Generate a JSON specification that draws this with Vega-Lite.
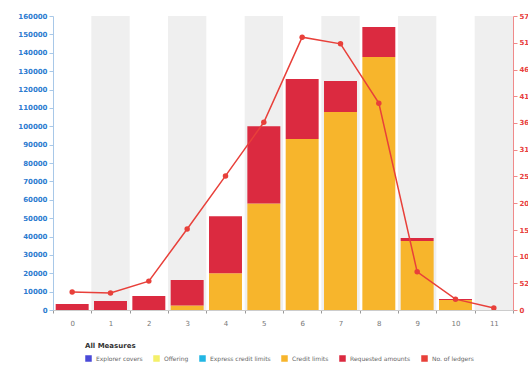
{
  "$schema": "https://vega.github.io/schema/vega-lite/v6.json",
  "width": 460,
  "height": 294,
  "autosize": {"type": "none"},
  "padding": {"left": 53, "top": 16, "right": 15, "bottom": 55},
  "background": "white",
  "config": {"view": {"stroke": null}, "font": "DejaVu Sans"},
  "datasets": {
    "stripes": [
      {"cat": "0", "shade": 0}, {"cat": "1", "shade": 1}, {"cat": "2", "shade": 0}, {"cat": "3", "shade": 1},
      {"cat": "4", "shade": 0}, {"cat": "5", "shade": 1}, {"cat": "6", "shade": 0}, {"cat": "7", "shade": 1},
      {"cat": "8", "shade": 0}, {"cat": "9", "shade": 1}, {"cat": "10", "shade": 0}, {"cat": "11", "shade": 1}
    ],
    "bars": [
      {"cat": "0", "measure": "Credit limits", "ord": 1, "value": 0},
      {"cat": "0", "measure": "Requested amounts", "ord": 2, "value": 3300},
      {"cat": "1", "measure": "Credit limits", "ord": 1, "value": 0},
      {"cat": "1", "measure": "Requested amounts", "ord": 2, "value": 4900},
      {"cat": "2", "measure": "Credit limits", "ord": 1, "value": 0},
      {"cat": "2", "measure": "Requested amounts", "ord": 2, "value": 7600},
      {"cat": "3", "measure": "Credit limits", "ord": 1, "value": 2500},
      {"cat": "3", "measure": "Requested amounts", "ord": 2, "value": 13800},
      {"cat": "4", "measure": "Credit limits", "ord": 1, "value": 20000},
      {"cat": "4", "measure": "Requested amounts", "ord": 2, "value": 31000},
      {"cat": "5", "measure": "Credit limits", "ord": 1, "value": 58000},
      {"cat": "5", "measure": "Requested amounts", "ord": 2, "value": 42000},
      {"cat": "6", "measure": "Credit limits", "ord": 1, "value": 93000},
      {"cat": "6", "measure": "Requested amounts", "ord": 2, "value": 32700},
      {"cat": "7", "measure": "Credit limits", "ord": 1, "value": 107700},
      {"cat": "7", "measure": "Requested amounts", "ord": 2, "value": 16900},
      {"cat": "8", "measure": "Credit limits", "ord": 1, "value": 137700},
      {"cat": "8", "measure": "Requested amounts", "ord": 2, "value": 16300},
      {"cat": "9", "measure": "Credit limits", "ord": 1, "value": 37500},
      {"cat": "9", "measure": "Requested amounts", "ord": 2, "value": 1700},
      {"cat": "10", "measure": "Credit limits", "ord": 1, "value": 5500},
      {"cat": "10", "measure": "Requested amounts", "ord": 2, "value": 500},
      {"cat": "11", "measure": "Credit limits", "ord": 1, "value": 0},
      {"cat": "11", "measure": "Requested amounts", "ord": 2, "value": 0}
    ],
    "line": [
      {"cat": "0", "count": 35}, {"cat": "1", "count": 33}, {"cat": "2", "count": 56},
      {"cat": "3", "count": 157}, {"cat": "4", "count": 260}, {"cat": "5", "count": 364},
      {"cat": "6", "count": 529}, {"cat": "7", "count": 516}, {"cat": "8", "count": 401},
      {"cat": "9", "count": 74}, {"cat": "10", "count": 21}, {"cat": "11", "count": 4}
    ]
  },
  "encoding": {
    "x": {
      "field": "cat", "type": "ordinal", "sort": null,
      "scale": {"domain": ["0","1","2","3","4","5","6","7","8","9","10","11"], "paddingInner": 0, "paddingOuter": 0},
      "axis": {
        "title": null, "labelAngle": 0, "labelColor": "#777777", "labelFontSize": 7,
        "domainColor": "#cccccc", "tickColor": "#999999", "tickSize": 3, "tickBand": "extent", "labelPadding": 6
      }
    }
  },
  "layer": [
    {
      "data": {"name": "stripes"},
      "transform": [{"filter": "datum.shade == 1"}],
      "mark": {"type": "rect", "color": "#efefef"}
    },
    {
      "data": {"name": "bars"},
      "mark": {"type": "bar", "width": {"band": 0.86}},
      "encoding": {
        "y": {
          "field": "value", "type": "quantitative", "stack": "zero",
          "scale": {"domain": [0, 160000], "nice": false},
          "axis": {
            "title": null, "values": [0,10000,20000,30000,40000,50000,60000,70000,80000,90000,100000,110000,120000,130000,140000,150000,160000],
            "format": "d", "labelColor": "#2b7bd0", "labelFontSize": 7, "labelFontWeight": "bold",
            "domainColor": "#a8c8e8", "tickColor": "#a8c8e8", "tickSize": 4, "grid": false
          }
        },
        "order": {"field": "ord"},
        "color": {
          "field": "measure", "type": "nominal",
          "scale": {
            "domain": ["Explorer covers", "Offering", "Express credit limits", "Credit limits", "Requested amounts", "No. of ledgers"],
            "range": ["#4b4bd8", "#f4f06a", "#22b6e4", "#f7b52c", "#db2a40", "#e8403a"]
          },
          "legend": {
            "title": "All Measures", "orient": "none", "legendX": 32, "legendY": 326,
            "direction": "horizontal", "titleFontSize": 7, "titleFontWeight": "bold", "titleColor": "#333333",
            "labelFontSize": 6, "labelColor": "#666666", "symbolType": "square", "symbolSize": 25,
            "columnPadding": 8, "titlePadding": 6
          }
        }
      }
    },
    {
      "data": {"name": "line"},
      "mark": {"type": "line", "strokeWidth": 1.5, "point": {"filled": true, "size": 30}},
      "encoding": {
        "y": {
          "field": "count", "type": "quantitative",
          "scale": {"domain": [0, 570], "nice": false},
          "axis": {
            "title": null, "orient": "right",
            "values": [0, 52, 104, 155, 207, 259, 311, 363, 414, 466, 518, 570],
            "format": "d", "labelColor": "#e84040", "labelFontSize": 7, "labelFontWeight": "bold",
            "domainColor": "#f08a8a", "tickColor": "#f08a8a", "tickSize": 4, "grid": false
          }
        },
        "color": {"datum": "No. of ledgers", "type": "nominal"}
      }
    }
  ],
  "resolve": {"scale": {"y": "independent"}}
}
